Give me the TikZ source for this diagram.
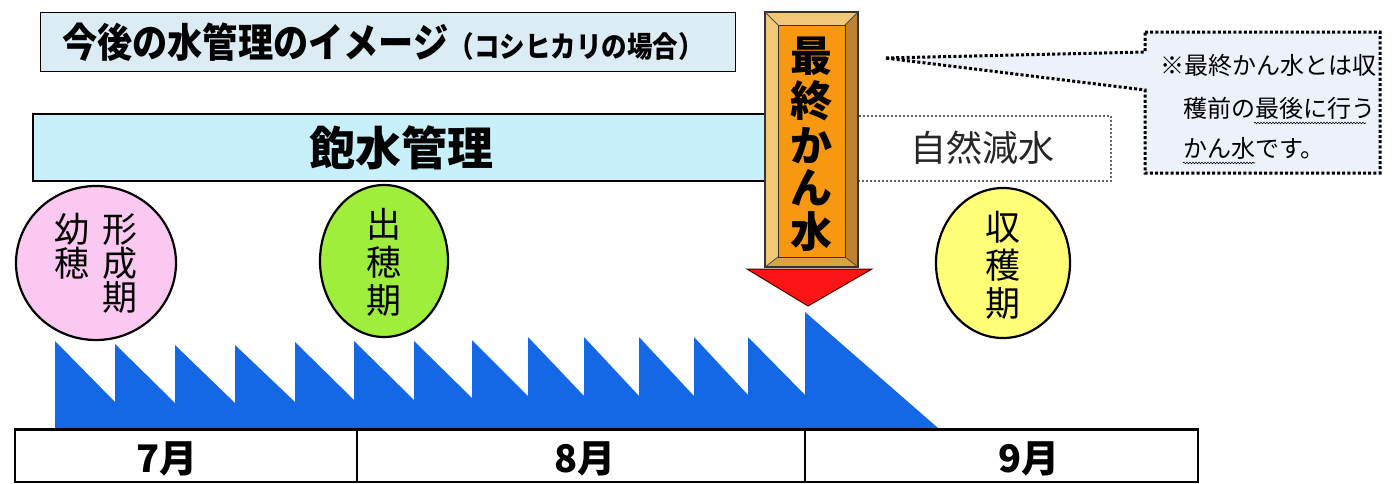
\documentclass[tikz,border=0pt]{standalone}
\usepackage{fontspec}
\usetikzlibrary{decorations.pathmorphing,shapes.geometric}
\setmainfont{Noto Sans CJK JP}
\newfontfamily\jp{Noto Sans CJK JP}
\newfontfamily\jpc{Noto Sans CJK JP}[FakeStretch=0.88]
\definecolor{titlebg}{RGB}{220,236,244}
\definecolor{barbg}{RGB}{200,240,250}
\definecolor{pinkbg}{RGB}{250,200,240}
\definecolor{greenbg}{RGB}{160,238,60}
\definecolor{yellowbg}{RGB}{255,255,120}
\definecolor{waterblue}{RGB}{20,104,230}
\definecolor{callbg}{RGB}{236,241,250}
\definecolor{tanA}{RGB}{240,200,120}
\definecolor{tanB}{RGB}{220,160,70}
\definecolor{tanC}{RGB}{190,130,50}
\definecolor{orangebg}{RGB}{248,152,16}
\definecolor{arrowred}{RGB}{250,20,20}
\tikzset{
  fs/.style={font=\jp\fontsize{#1}{#1}\selectfont},
  fsb/.style={font=\jp\bfseries\fontsize{#1}{#1}\selectfont},
  phase/.style={ellipse, draw=black, line width=2.2pt, inner sep=0pt},
  vtxt/.style={align=center, inner sep=0pt},
  cell/.style={draw=black, line width=1.5pt},
}
\begin{document}
\begin{tikzpicture}[x=1pt,y=-1pt]
\useasboundingbox (0,0) rectangle (1398,483);
\fill[white] (0,0) rectangle (1398,483);

% title
\node[draw=black, line width=1pt, fill=titlebg, minimum width=695pt, minimum height=59pt, inner sep=0pt] (title) at (387.5,42) {};
\node[inner sep=0pt, anchor=center] (titletext) at (383,42) {{\jpc\bfseries\fontsize{40}{40}\selectfont 今後の水管理のイメージ}{\jpc\bfseries\fontsize{29}{29}\selectfont （コシヒカリの場合）}};

% saturation bar
\node[draw=black, line width=2pt, fill=barbg, minimum width=745pt, minimum height=67pt, inner sep=0pt, anchor=north west] (bar) at (32,113) {};
\node[fsb=46, inner sep=0pt] (bartext) at (401,148) {飽水管理};

% natural decrease box
\node[draw=gray!80!black, dash pattern=on 2pt off 2pt, line width=2.2pt, minimum width=253pt, minimum height=65pt, inner sep=0pt, anchor=north west] (natbox) at (857,115) {};
\node[fs=36, inner sep=0pt, text=black!85] (nattext) at (982,148) {自然減水};

% callout
\filldraw[fill=callbg, draw=black, line width=3pt, dash pattern=on 3pt off 2.2pt]
  (1145,32) -- (1380,32) -- (1380,173) -- (1145,173) -- (1145,90) -- (885,58) -- (1145,52) -- cycle;
\coordinate (calltip) at (885,58);
\node[fs=24, anchor=west, inner sep=0pt] (c1) at (1160,65) {※最終かん水とは収};
\node[fs=24, anchor=west, inner sep=0pt] (c2) at (1183,108) {穫前の最後に行う};
\node[fs=24, anchor=west, inner sep=0pt] (c3) at (1183,148) {かん水です。};
\draw[line width=0.6pt, decorate, decoration={snake, amplitude=0.8pt, segment length=3pt}] (1254,123) -- (1366,123);
\draw[line width=0.6pt, decorate, decoration={snake, amplitude=0.8pt, segment length=3pt}] (1183,163) -- (1255,163);

% phase circles
\node[phase, fill=pinkbg, minimum width=160pt, minimum height=154pt] (p1) at (96,263) {};
\node[fs=35, vtxt] (p1a) at (72,246) {幼\\[-1pt]穂};
\node[fs=35, vtxt] (p1b) at (120,264) {形\\[-1pt]成\\[-1pt]期};
\node[phase, fill=greenbg, minimum width=128pt, minimum height=152pt] (p2) at (384,261) {};
\node[fs=35, vtxt] (p2a) at (384,262) {出\\[3pt]穂\\[3pt]期};
\node[phase, fill=yellowbg, minimum width=134pt, minimum height=150pt] (p3) at (1003,263) {};
\node[fs=35, vtxt] (p3a) at (1003,265) {収\\[3pt]穫\\[3pt]期};

% water sawtooth
\fill[waterblue] (55,428) -- (55,341) -- (115,402) -- (115,344) -- (175,403) -- (175,345)
 -- (235,403) -- (235,345) -- (295,402) -- (295,342) -- (354,400) -- (354,341)
 -- (414,400) -- (414,341) -- (472,398) -- (472,340) -- (528,396) -- (528,337)
 -- (584,396) -- (584,337) -- (639,396) -- (639,337) -- (694,396) -- (694,337)
 -- (748,395) -- (748,337) -- (805,395) -- (805,312) -- (938,428) -- cycle;

% month table
\draw[cell] (15,429) rectangle (1198,482);
\draw[line width=3pt] (15,429) -- (1198,429);
\draw[cell] (357,429) -- (357,482);
\draw[cell] (805,429) -- (805,482);
\node[fsb=38, inner sep=0pt] (m7) at (167,459) {7月};
\node[fsb=38, inner sep=0pt] (m8) at (585,459) {8月};
\node[fsb=38, inner sep=0pt] (m9) at (1029,459) {9月};

% final irrigation arrow
\fill[arrowred, draw=black!70!red, line width=1pt] (747,269) -- (872,269) -- (808,306) -- cycle;
\fill[tanA] (765,12) -- (858,12) -- (845,25) -- (778,25) -- cycle;
\fill[tanA] (765,12) -- (778,25) -- (778,257) -- (765,267) -- cycle;
\fill[tanC] (858,12) -- (858,267) -- (845,257) -- (845,25) -- cycle;
\fill[tanB] (765,267) -- (858,267) -- (845,257) -- (778,257) -- cycle;
\draw[black!80, line width=1.8pt] (765,12) rectangle (858,267);
\draw[black!70, line width=0.8pt] (765,12) -- (778,25) (858,12) -- (845,25) (765,267) -- (778,257) (858,267) -- (845,257);
\node[draw=black!80, line width=1pt, fill=orangebg, minimum width=67pt, minimum height=232pt, inner sep=0pt, anchor=north west] (arrowpanel) at (778,25) {};
\node[fsb=42, inner sep=0pt] (f1) at (811,56) {最};
\node[fsb=42, inner sep=0pt] (f2) at (811,101) {終};
\node[fsb=42, inner sep=0pt] (f3) at (811,146) {か};
\node[fsb=42, inner sep=0pt] (f4) at (811,188) {ん};
\node[fsb=42, inner sep=0pt] (f5) at (811,232) {水};
\end{tikzpicture}
\end{document}
